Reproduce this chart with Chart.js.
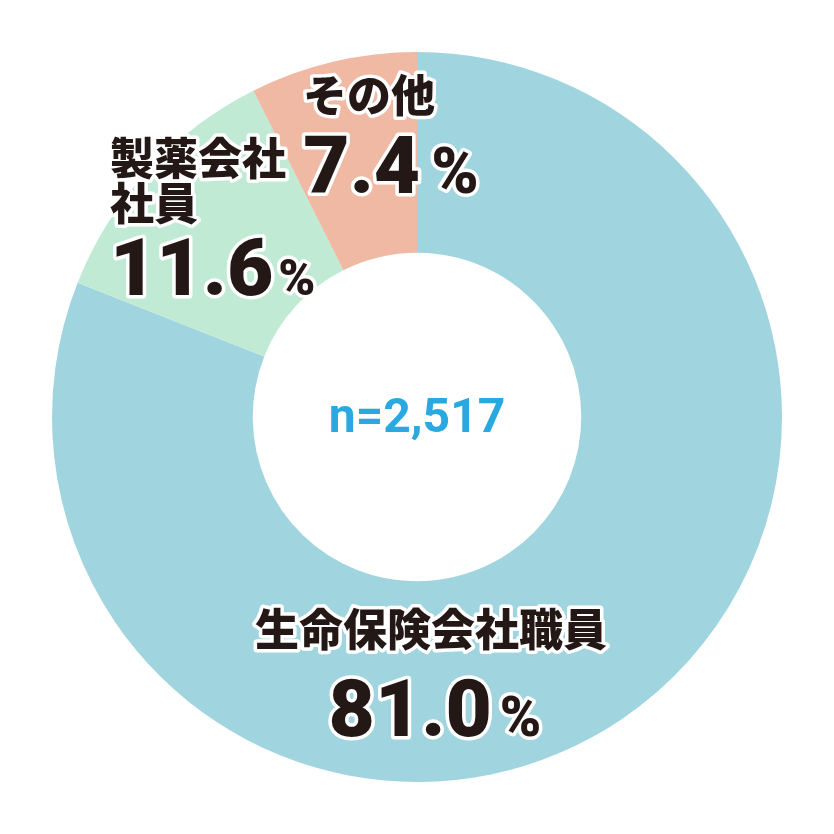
<!DOCTYPE html>
<html>
<head>
<meta charset="utf-8">
<script src="https://cdn.jsdelivr.net/npm/chart.js@4"></script>
<style>
  html, body { margin: 0; padding: 0; background: #fff; }
  #wrap { width: 834px; height: 834px; }
</style>
</head>
<body>
<div id="wrap"><canvas id="myChart" width="834" height="834"></canvas></div>
<script>
var categories = ['生命保険会社職員', '製薬会社社員', 'その他'];
var values = [81.0, 11.6, 7.4];
var colors = ['#A0D5E0', '#C1EAD5', '#EFB9A4'];
var sampleText = 'n=2,517';

// label lines + where they sit, relative to the chart centre
var labelSpots = [
    { lines: ['生命保険会社職員'], x: 14, y: 229, pctX: 18, pctY: 319, pctSize: 56, gap: 8, align: 'center' },
    { lines: ['製薬会社', '社員'], x: -307, y: -242, pctX: -307, pctY: -122, pctSize: 50, gap: 5, align: 'left' },
    { lines: ['その他'], x: -48, y: -305, pctX: -26, pctY: -224, pctSize: 64, gap: 11, align: 'center' }
];

var jpFont = '"Noto Sans CJK JP", "Noto Sans", sans-serif';
var numFont = 'Roboto, "Liberation Sans", sans-serif';

function outlined(ctx, text, x, y) {
    ctx.lineWidth = 7;
    ctx.lineJoin = 'round';
    ctx.strokeStyle = '#ffffff';
    ctx.strokeText(text, x, y);
    ctx.fillStyle = '#231815';
    ctx.fillText(text, x, y);
}

var labelPlugin = {
    id: 'labels',
    afterDatasetsDraw: function (chart) {
        var ctx = chart.ctx;
        var arc = chart.getDatasetMeta(0).data[0];
        var cx = arc.x, cy = arc.y;
        ctx.save();
        ctx.textBaseline = 'alphabetic';

        // sample size in the hole
        ctx.font = 'bold 48px ' + numFont;
        ctx.textAlign = 'center';
        ctx.fillStyle = '#29A9E0';
        ctx.fillText(sampleText, cx, cy + 15);

        ctx.textAlign = 'left';
        labelSpots.forEach(function (s, i) {
            ctx.font = '900 44px ' + jpFont;
            var lineW = s.lines.map(function (t) { return ctx.measureText(t).width; });
            s.lines.forEach(function (t, j) {
                var lx = s.align === 'center' ? cx + s.x - lineW[j] / 2 : cx + s.x;
                outlined(ctx, t, lx, cy + s.y + j * 45);
            });

            var num = values[i].toFixed(1);
            ctx.font = '900 80px ' + numFont;
            var nw = ctx.measureText(num).width;
            ctx.font = '900 ' + s.pctSize + 'px ' + numFont;
            var pw = ctx.measureText('%').width;
            var total = nw + s.gap + pw;
            var px = s.align === 'center' ? cx + s.pctX - total / 2 : cx + s.pctX;
            ctx.font = '900 80px ' + numFont;
            outlined(ctx, num, px, cy + s.pctY);
            ctx.font = '900 ' + s.pctSize + 'px ' + numFont;
            outlined(ctx, '%', px + nw + s.gap, cy + s.pctY);
        });
        ctx.restore();
    }
};

var ctx = document.getElementById('myChart');
var myChart = new Chart(ctx, {
    type: 'doughnut',
    data: {
        labels: categories,
        datasets: [{
            data: values,
            backgroundColor: colors,
            borderWidth: 0
        }]
    },
    options: {
        responsive: false,
        animation: false,
        cutout: '45%',
        layout: { padding: 52 },
        plugins: {
            legend: { display: false },
            tooltip: { enabled: false }
        }
    },
    plugins: [labelPlugin]
});
</script>
</body>
</html>
